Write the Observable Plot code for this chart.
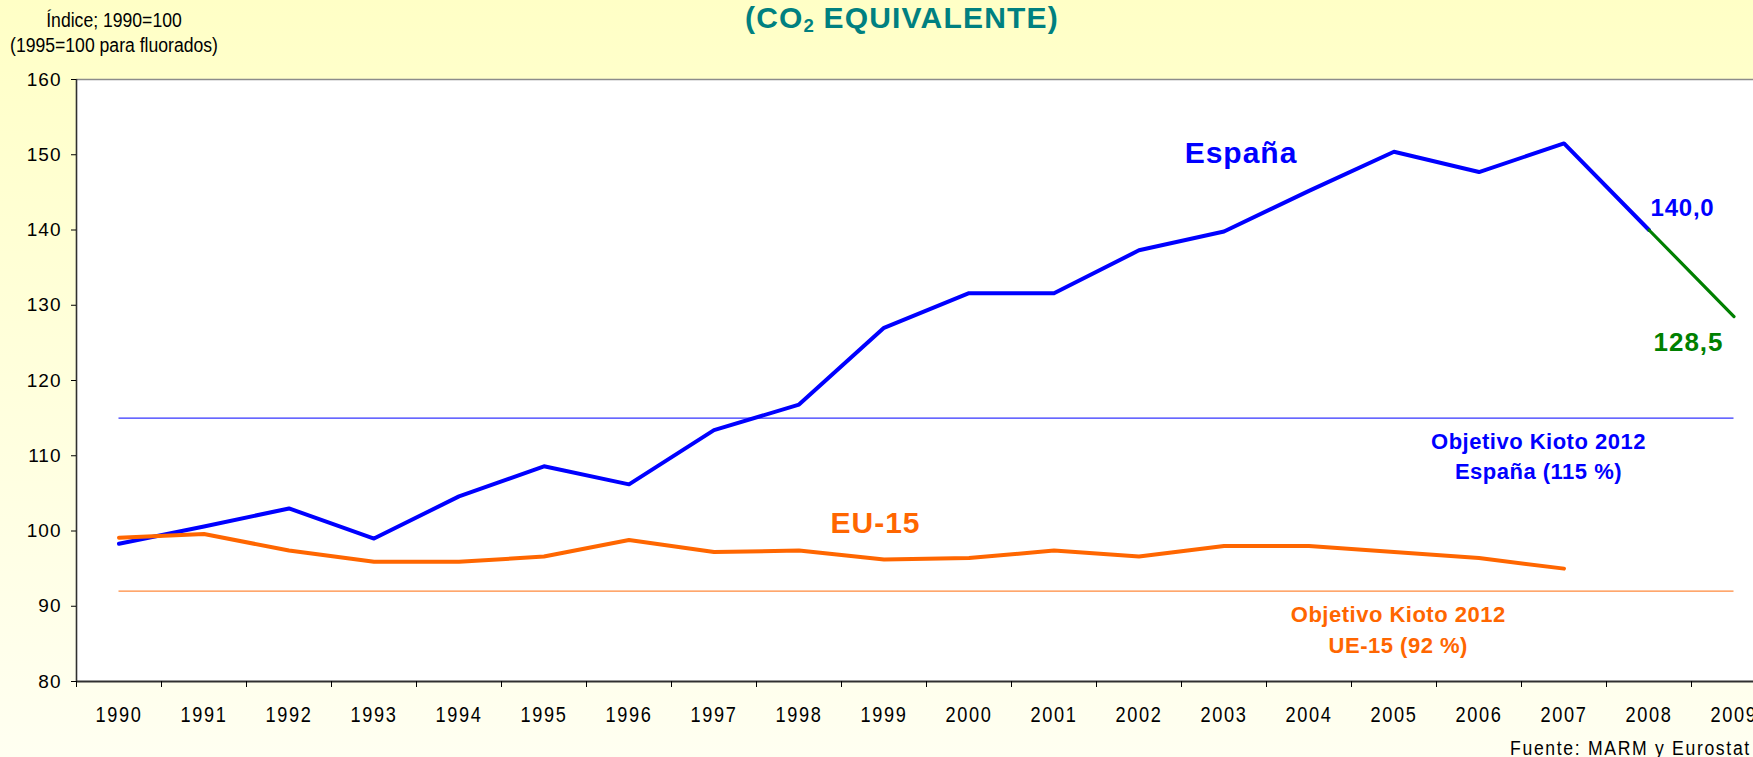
<!DOCTYPE html>
<html>
<head>
<meta charset="utf-8">
<script src="https://cdn.jsdelivr.net/npm/d3@7"></script>
<script src="https://cdn.jsdelivr.net/npm/@observablehq/plot@0.6"></script>
<style>
  html, body { margin: 0; padding: 0; width: 1753px; height: 757px; overflow: hidden; }
  body {
    position: relative;
    background: linear-gradient(to bottom, #FFFFC6 0%, #FFFFDA 45%, #FFFFF1 100%);
    font-family: "Liberation Sans", Arial, sans-serif;
  }
  #chart { position: absolute; left: 0; top: 0; width: 1800px; height: 757px; }
  .title {
    position: absolute; left: 902px; top: 3px; transform: translateX(-50%);
    font: bold 30px/30px "Liberation Sans", Arial, sans-serif; letter-spacing: 1.2px;
    color: #008080; white-space: nowrap;
  }
  .title sub { font-size: 0.62em; line-height: 0; vertical-align: -0.2em; letter-spacing: 0; }
  .ylabel {
    position: absolute; left: 114px; top: 8px; transform: translateX(-50%) scaleX(0.88);
    font: 20px/25px "Liberation Sans Narrow", "Arial Narrow", "Liberation Sans", sans-serif;
    text-align: center; white-space: pre; color: #000;
  }
  .source {
    position: absolute; left: 1510px; top: 738px; transform-origin: left center; transform: scaleX(0.88);
    font: 20px/20px "Liberation Sans Narrow", "Arial Narrow", "Liberation Sans", sans-serif;
    letter-spacing: 1.9px; white-space: nowrap; color: #000;
  }
</style>
</head>
<body>
<div id="chart"></div>
<div class="title">(CO<sub>2</sub> EQUIVALENTE)</div>
<div class="ylabel">Índice; 1990=100
(1995=100 para fluorados)</div>
<div class="source">Fuente: MARM y Eurostat</div>
<script>
// ---- data ----
const years = [1990, 1991, 1992, 1993, 1994, 1995, 1996, 1997, 1998, 1999,
               2000, 2001, 2002, 2003, 2004, 2005, 2006, 2007, 2008, 2009];
const espanaValues = [98.3, 100.6, 103.0, 99.0, 104.6, 108.6, 106.2, 113.4, 116.8, 127.0,
                      131.6, 131.6, 137.3, 139.8, 145.2, 150.4, 147.7, 151.5, 140.0, 128.5];
const eu15Values = [99.1, 99.6, 97.4, 95.9, 95.9, 96.6, 98.8, 97.2, 97.4, 96.2,
                    96.4, 97.4, 96.6, 98.0, 98.0, 97.2, 96.4, 95.0];
const lastConsolidatedYear = 2008;
const kiotoTargetNames = ["España", "UE-15"];
const kiotoTargetValues = [115, 92];
const yTicks = [80, 90, 100, 110, 120, 130, 140, 150, 160];
const seriesNames = ["España", "EU-15"];

// ---- derived tables ----
const espana = years.map((year, i) => ({year, value: espanaValues[i]}));
const eu15 = eu15Values.map((value, i) => ({year: years[i], value}));
const espanaActual = espana.filter(d => d.year <= lastConsolidatedYear);
const espanaEstimate = espana.filter(d => d.year >= lastConsolidatedYear);
const targets = kiotoTargetNames.map((name, i) => ({name, value: kiotoTargetValues[i]}));
const boundaries = [...years.map(y => y - 0.5), years[years.length - 1] + 0.5];
const firstYear = years[0], lastYear = years[years.length - 1];
const fmt = v => v.toFixed(1).replace(".", ",");

const BLUE = "#0000FF", ORANGE = "#FF6600", GREEN = "#008000";

const plot = Plot.plot({
  width: 1800,
  height: 757,
  marginLeft: 76,
  marginRight: 24,
  marginTop: 79,
  marginBottom: 76,
  style: {background: "transparent", color: "#000", maxWidth: "none", overflow: "visible",
          fontFamily: "'Liberation Sans', Arial, sans-serif"},
  x: {type: "linear", domain: [firstYear - 0.5, lastYear + 0.5]},
  y: {domain: [yTicks[0], yTicks[yTicks.length - 1]]},
  marks: [
    Plot.frame({fill: "white", stroke: null}),
    Plot.ruleY([yTicks[yTicks.length - 1]], {stroke: "#8c8c8c", strokeWidth: 1.5}),
    // Kyoto targets
    Plot.ruleY([targets[0]], {y: "value", x1: firstYear, x2: lastYear, stroke: "#3535FF", strokeWidth: 1.3}),
    Plot.ruleY([targets[1]], {y: "value", x1: firstYear, x2: lastYear, stroke: "#FF8A3D", strokeWidth: 1.3}),
    // series
    Plot.line(espanaActual, {x: "year", y: "value", stroke: BLUE, strokeWidth: 4}),
    Plot.line(espanaEstimate, {x: "year", y: "value", stroke: GREEN, strokeWidth: 3.2}),
    Plot.line(eu15, {x: "year", y: "value", stroke: ORANGE, strokeWidth: 4}),
    // axes
    Plot.ruleX([firstYear - 0.5], {stroke: "#303030", strokeWidth: 1.6}),
    Plot.ruleY([yTicks[0]], {stroke: "#303030", strokeWidth: 2}),
    Plot.axisY({ticks: yTicks, tickSize: 5, tickPadding: 10, fontSize: 19,
                tickFormat: d => String(d), label: null}),
    Plot.axisX({ticks: boundaries, tickSize: 6, tickFormat: () => "", label: null}),
    Plot.axisX({ticks: years, tickSize: 0, tickPadding: 25, fontSize: 22,
                tickFormat: d => String(d), label: null}),
    // series labels
    Plot.text([seriesNames[0]], {x: 2003.2, y: 150.2, text: d => d, fill: BLUE,
              fontSize: 30, fontWeight: "bold"}),
    Plot.text([seriesNames[1]], {x: 1998.9, y: 101.05, text: d => d, fill: ORANGE,
              fontSize: 30, fontWeight: "bold"}),
    // value labels
    Plot.text(espanaActual.slice(-1), {x: "year", y: "value", text: d => fmt(d.value),
              dx: 33.5, dy: -22, fill: BLUE, fontSize: 24, fontWeight: "bold"}),
    Plot.text(espanaEstimate.slice(-1), {x: "year", y: "value", text: d => fmt(d.value),
              dx: -45.5, dy: 26.3, fill: GREEN, fontSize: 26, fontWeight: "bold"}),
    // target labels
    Plot.text([targets[0]], {x: 2006.7, y: "value", lineAnchor: "top", dy: 9, lineHeight: 1.38,
              text: d => `Objetivo Kioto 2012\n${d.name} (${d.value} %)`,
              fill: BLUE, fontSize: 22, fontWeight: "bold"}),
    Plot.text([targets[1]], {x: 2005.05, y: "value", lineAnchor: "top", dy: 9.5, lineHeight: 1.38,
              text: d => `Objetivo Kioto 2012\n${d.name} (${d.value} %)`,
              fill: ORANGE, fontSize: 22, fontWeight: "bold"})
  ]
});

document.getElementById("chart").appendChild(plot);

// text tweaks (letter spacing, condensed year labels)
const svg = d3.select(plot);
svg.selectAll("text").each(function() {
  const s = this.textContent;
  if (/^\d{4}$/.test(s)) {
    this.setAttribute("letter-spacing", "2px");
    this.setAttribute("textLength", "47");
    this.setAttribute("lengthAdjust", "spacingAndGlyphs");
  }
});
svg.selectAll('g[aria-label="y-axis tick label"] text').attr("letter-spacing", "1px");
svg.selectAll('g[aria-label="text"] text').each(function() {
  const fs = parseFloat(this.parentNode.getAttribute("font-size")) || 0;
  let ls = 0.5;
  if (fs >= 26) ls = 1; else if (fs >= 24) ls = 0.75;
  d3.select(this).attr("letter-spacing", ls + "px");
});
</script>
</body>
</html>
